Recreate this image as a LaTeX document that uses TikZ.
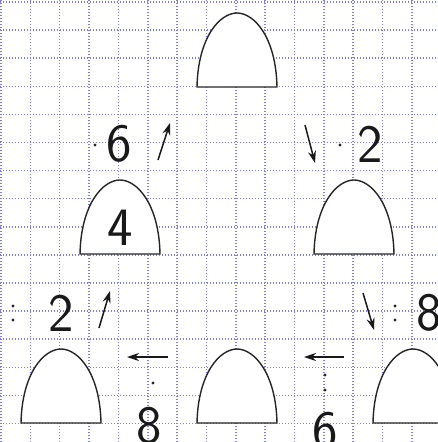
\documentclass[tikz,border=0pt]{standalone}
\usetikzlibrary{arrows.meta}
\definecolor{gridblue}{RGB}{125,125,240}
\tikzset{
  gridline/.style={draw=gridblue, line width=1.5pt, dash pattern=on 1.2pt off 1.8pt},
  archline/.style={draw=black!85, line width=1.4pt, fill=white},
  digit/.style={inner sep=0pt, font=\sffamily\fontsize{54}{54}\selectfont, text=black!90},
  opdot/.style={circle, fill=black!85, inner sep=0pt, minimum size=3.4pt},
  move/.style={draw=black!90, line width=1.5pt, -{Stealth[length=12pt,width=8pt]}},
  arch/.pic={\path[archline] (-40,0) .. controls (-39,-50) and (-17,-74) .. (0,-74)
     .. controls (17,-74) and (39,-50) .. (40,0) -- cycle;}
}
\begin{document}
\begin{tikzpicture}[x=1pt,y=-1pt]
\useasboundingbox (0,0) rectangle (437,442);
\fill[white] (0,0) rectangle (437,442);
% grid
\foreach \k in {0,...,14} \draw[gridline] ({1+29.35*\k},0) -- ({1+29.35*\k},442);
\foreach \k in {0,...,15} \draw[gridline] (0,{2+28.1*\k}) -- (437,{2+28.1*\k});
% arches
\pic at (237,87) {arch};
\pic at (120,254) {arch};
\pic at (354,254) {arch};
\pic at (61,423) {arch};
\pic at (237,423) {arch};
\pic at (413,423) {arch};
% digits
\node[digit] (four) at (120,228) {4};
\node[digit] (sixa) at (119,144) {6};
\node[opdot] (da) at (95,145) {};
\node[digit] (twoa) at (370,144) {2};
\node[opdot] (db) at (340,145) {};
\node[digit] (twob) at (61,313) {2};
\node[opdot] (dc1) at (13,306) {};
\node[opdot] (dc2) at (13,320) {};
\node[digit] (eighta) at (429,313) {8};
\node[opdot] (dd1) at (395,306) {};
\node[opdot] (dd2) at (395,320) {};
\node[digit] (eightb) at (149,426) {8};
\node[opdot] (de) at (153,383) {};
\node[digit] (sixb) at (325,431) {6};
\node[opdot] (df1) at (325,375) {};
\node[opdot] (df2) at (325,390) {};
% arrows
\coordinate (a1s) at (158,160); \coordinate (a1e) at (170,123);
\coordinate (a2s) at (305,125); \coordinate (a2e) at (315,163);
\coordinate (a3s) at (99,328);  \coordinate (a3e) at (110,291);
\coordinate (a4s) at (363,293); \coordinate (a4e) at (374,330);
\coordinate (a5s) at (168,357); \coordinate (a5e) at (127,357);
\coordinate (a6s) at (344,357); \coordinate (a6e) at (304,357);
\draw[move] (a1s) -- (a1e);
\draw[move] (a2s) -- (a2e);
\draw[move] (a3s) -- (a3e);
\draw[move] (a4s) -- (a4e);
\draw[move] (a5s) -- (a5e);
\draw[move] (a6s) -- (a6e);
\end{tikzpicture}
\end{document}
